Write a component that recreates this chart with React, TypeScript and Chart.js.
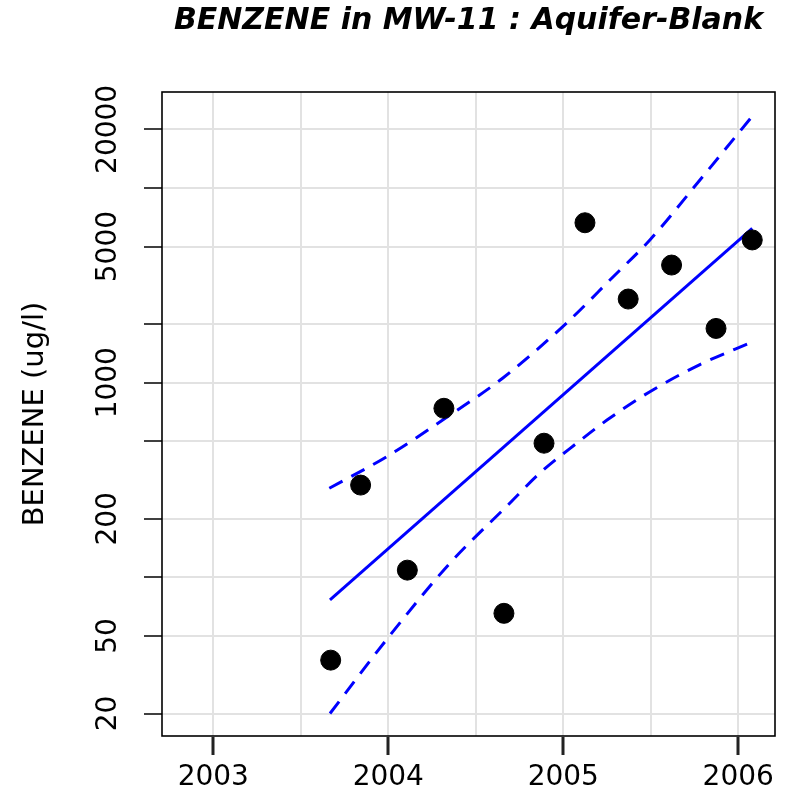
import React, { useEffect, useRef } from 'react';
import { Chart, registerables } from 'chart.js';

Chart.register(...registerables);

const FONT = "'DejaVu Sans', 'Liberation Sans', sans-serif";

const chartTitle = 'BENZENE in MW-11 : Aquifer-Blank';
const yAxisTitle = 'BENZENE (ug/l)';

// Observations (decimal year, ug/l)
const sampleDates = [2003.671, 2003.842, 2004.109, 2004.318, 2004.661, 2004.89, 2005.124, 2005.371, 2005.619, 2005.873, 2006.08];
const benzeneValues = [37.6, 298, 109, 739, 65.4, 489, 6630, 2690, 4020, 1900, 5410];

// Fitted trend
const trendDates = [2003.667, 2006.08];
const trendValues = [76.6, 6210];

// Upper confidence band
const upperDates = [2003.663, 2003.991, 2004.37, 2004.655, 2005.019, 2005.284, 2005.495, 2005.781, 2006.086];
const upperValues = [287, 417, 699, 1057, 2026, 3491, 5408, 10990, 23710];

// Lower confidence band
const lowerDates = [2003.667, 2003.998, 2004.353, 2004.678, 2004.867, 2005.078, 2005.25, 2005.495, 2005.781, 2006.084];
const lowerValues = [20.0, 48.9, 118.6, 232.6, 343.8, 490, 643, 899, 1239, 1624];

// Axes
const xGridValues = [2003, 2003.5, 2004, 2004.5, 2005, 2005.5, 2006];
const xTickLabels = ['2003', '2004', '2005', '2006'];
const yGridValues = [20, 50, 100, 200, 500, 1000, 2000, 5000, 10000, 20000];
const yTickLabels = ['20', '50', '200', '1000', '5000', '20000'];
const xRange = [2002.707, 2006.21];
const yRange = [15.33, 31120];

const pairs = (xs: number[], ys: number[]) => xs.map((x, i) => ({ x, y: ys[i] }));

const decorPlugin = {
  id: 'decor',
  afterDraw(chart: any) {
    const { ctx, chartArea: a, scales } = chart;
    ctx.save();
    ctx.strokeStyle = '#000';
    ctx.lineWidth = 1.6;
    ctx.strokeRect(a.left, a.top, a.right - a.left, a.bottom - a.top);

    // x-axis tick marks at labelled years
    ctx.fillStyle = '#222';
    for (const l of xTickLabels) {
      const x = Math.round(scales.x.getPixelForValue(Number(l)));
      ctx.fillRect(x - 1.5, a.bottom + 1, 3, 18);
    }

    ctx.fillStyle = '#000';
    ctx.font = `28px ${FONT}`;
    ctx.textAlign = 'center';
    ctx.textBaseline = 'middle';
    yTickLabels.forEach((l) => {
      const y = scales.y.getPixelForValue(Number(l));
      ctx.save();
      ctx.translate(a.left - 53, y);
      ctx.rotate(-Math.PI / 2);
      ctx.fillText(l, 0, 0);
      ctx.restore();
    });

    ctx.font = `italic bold 30px ${FONT}`;
    ctx.fillText(chartTitle, (a.left + a.right) / 2, 21);
    ctx.restore();
  },
};

export default function App() {
  const ref = useRef<HTMLCanvasElement | null>(null);

  useEffect(() => {
    if (!ref.current) return;
    const chart = new Chart(ref.current, {
      type: 'scatter',
      data: {
        datasets: [
          {
            data: pairs(sampleDates, benzeneValues),
            backgroundColor: '#000',
            borderColor: '#000',
            pointRadius: 10,
            borderWidth: 1,
            showLine: false,
          },
          {
            data: pairs(trendDates, trendValues),
            showLine: true,
            borderColor: '#0000ff',
            borderWidth: 3,
            pointRadius: 0,
          },
          {
            data: pairs(upperDates, upperValues),
            showLine: true,
            borderColor: '#0000ff',
            borderWidth: 3,
            borderDash: [15, 10],
            pointRadius: 0,
            cubicInterpolationMode: 'monotone',
          },
          {
            data: pairs(lowerDates, lowerValues),
            showLine: true,
            borderColor: '#0000ff',
            borderWidth: 3,
            borderDash: [15, 10],
            pointRadius: 0,
            cubicInterpolationMode: 'monotone',
          },
        ] as any,
      },
      options: {
        animation: false,
        responsive: false,
        devicePixelRatio: 1,
        layout: { padding: { top: 92, right: 11, left: 0, bottom: 0 } },
        plugins: {
          legend: { display: false },
          tooltip: { enabled: false },
          title: { display: false },
        },
        scales: {
          x: {
            type: 'linear',
            min: xRange[0],
            max: xRange[1],
            afterBuildTicks: (s: any) => {
              s.ticks = xGridValues.map((v) => ({ value: v }));
            },
            afterFit: (s: any) => {
              s.height = 66;
            },
            border: { display: false },
            grid: {
              color: '#e2e2e2',
              lineWidth: 2,
              tickLength: 18,
              tickColor: 'rgba(0,0,0,0)',
            },
            ticks: {
              autoSkip: false,
              maxRotation: 0,
              minRotation: 0,
              padding: 7,
              color: '#000',
              font: { family: FONT, size: 28 },
              callback: (v: any) => (xTickLabels.includes(String(v)) ? String(v) : ''),
            },
          },
          y: {
            type: 'logarithmic',
            min: yRange[0],
            max: yRange[1],
            afterBuildTicks: (s: any) => {
              s.ticks = yGridValues.map((v) => ({ value: v }));
            },
            afterFit: (s: any) => {
              s.width = 162;
            },
            border: { display: false },
            grid: {
              color: '#e2e2e2',
              lineWidth: 2,
              tickLength: 18,
              tickWidth: 1.5,
              tickColor: '#000',
            },
            ticks: { display: false },
            title: {
              display: true,
              text: yAxisTitle,
              color: '#000',
              font: { family: FONT, size: 29 },
              padding: { top: 18, bottom: 0 },
            },
          },
        },
      } as any,
      plugins: [decorPlugin],
    });
    return () => chart.destroy();
  }, []);

  return (
    <div style={{ position: 'absolute', left: 0, top: 0, width: 786, height: 802, background: '#fff' }}>
      <canvas ref={ref} width={786} height={802} />
    </div>
  );
}
